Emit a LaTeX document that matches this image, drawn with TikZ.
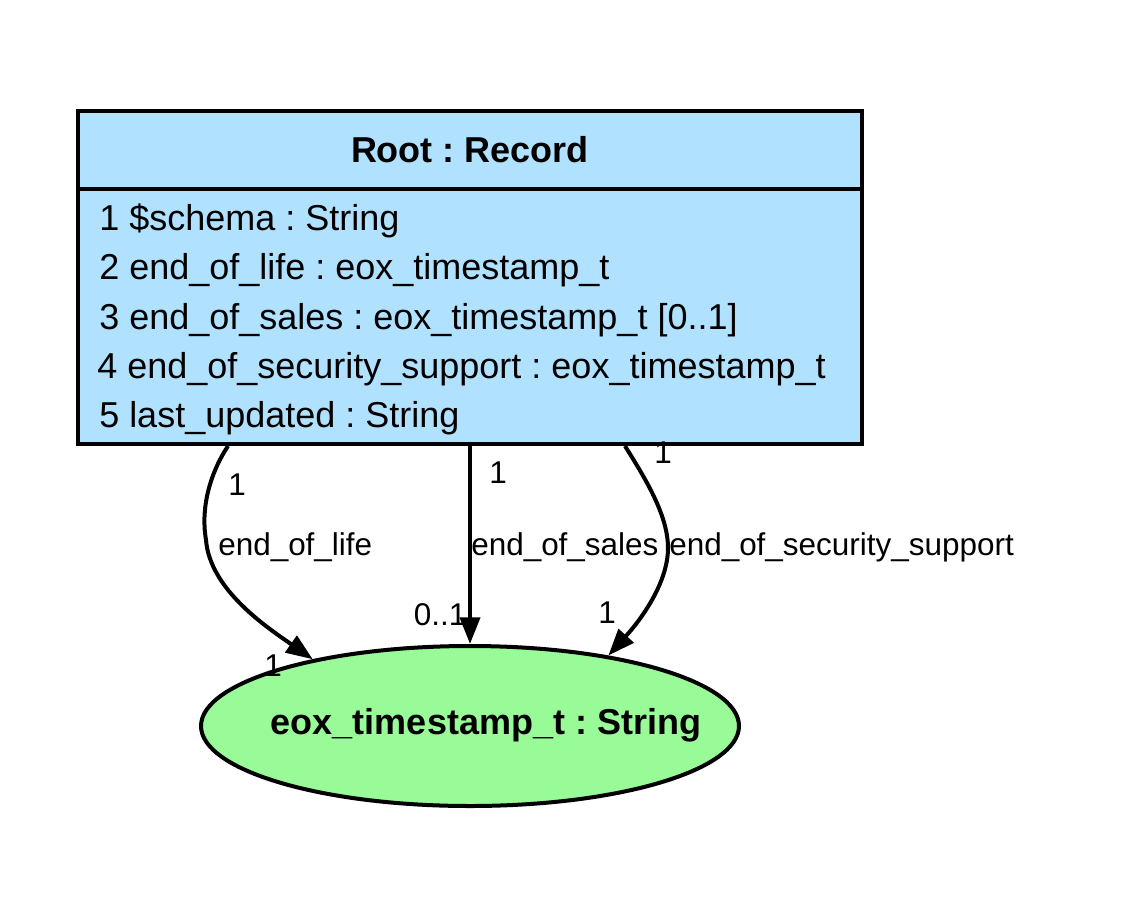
\documentclass[tikz,border=0pt]{standalone}
\usepackage{fontspec}
\setmainfont{Liberation Sans}
\usetikzlibrary{arrows.meta,calc,shapes.geometric}
\definecolor{boxblue}{HTML}{B0E2FF}
\definecolor{ellgreen}{HTML}{98FB98}
\frenchspacing
\tikzset{
  recbox/.style={draw=black, line width=3pt, fill=boxblue, rectangle, minimum width=588pt, minimum height=249.75pt, inner sep=0pt},
  typeell/.style={draw=black, line width=3pt, fill=ellgreen, ellipse, minimum width=403.5pt, minimum height=120pt, inner sep=0pt},
  elltext/.style={inner sep=0pt, font=\fontsize{27}{32}\selectfont\bfseries},
  attr/.style={anchor=base west, inner sep=0pt, font=\fontsize{27}{32}\selectfont},
  title/.style={anchor=base, inner sep=0pt, font=\fontsize{27}{32}\selectfont\bfseries},
  elabel/.style={anchor=base west, inner sep=0pt, font=\fontsize{23.6}{28}\selectfont},
  mult/.style={anchor=base, inner sep=0pt, font=\fontsize{23.6}{28}\selectfont},
  conn/.style={line width=3pt, -{Triangle[length=20pt,width=15pt]}}
}
\begin{document}
\begin{tikzpicture}[x=0.75pt, y=-0.75pt]
\useasboundingbox (0,0) rectangle (1133,922);
% root record
\node[recbox] (root) at (470,277.5) {};
\draw[line width=3pt] ($(root.north west)+(0,80)$) coordinate (sepL) -- ($(root.north east)+(0,80)$) coordinate (sepR);
\node[title] (rtitle) at (470,162) {Root : Record};
\node[attr] (a1) at (99,230) {1 \$schema : String};
\node[attr] (a2) at (99,279.5) {2 end\_of\_life : eox\_timestamp\_t};
\node[attr] (a3) at (99,329) {3 end\_of\_sales : eox\_timestamp\_t [0..1]};
\node[attr] (a4) at (97,378) {4 end\_of\_security\_support : eox\_timestamp\_t};
\node[attr] (a5) at (99,427) {5 last\_updated : String};
% type ellipse
\node[typeell] (ell) at (470,726) {};
\node[elltext, anchor=base] (elltxt) at (486,734) {eox\_timestamp\_t : String};
% connectors
\coordinate (s1) at ($(root.south)+(-242,0)$);
\coordinate (s3) at ($(root.south)+(155,0)$);
\draw[conn] (s1) .. controls (212,470) and (200,505) .. (206,540)
  .. controls (210,590) and (268,628) .. (ell.157);
\draw[conn] (root.south) -- (ell.north);
\draw[conn] (s3) .. controls (645,478) and (668,515) .. (668,548)
  .. controls (668,580) and (645,615) .. (ell.27);
% labels
\node[mult] (t1) at (237,495) {1};
\node[elabel] (l1) at (218,555) {end\_of\_life};
\node[mult] (h1) at (273,676) {1};
\node[mult] (t2) at (498,483) {1};
\node[elabel] (l2) at (471,555) {end\_of\_sales};
\node[mult] (h2) at (440,625) {0..1};
\node[mult] (t3) at (663,463) {1};
\node[elabel] (l3) at (669,555) {end\_of\_security\_support};
\node[mult] (h3) at (607,623) {1};
\end{tikzpicture}
\end{document}
